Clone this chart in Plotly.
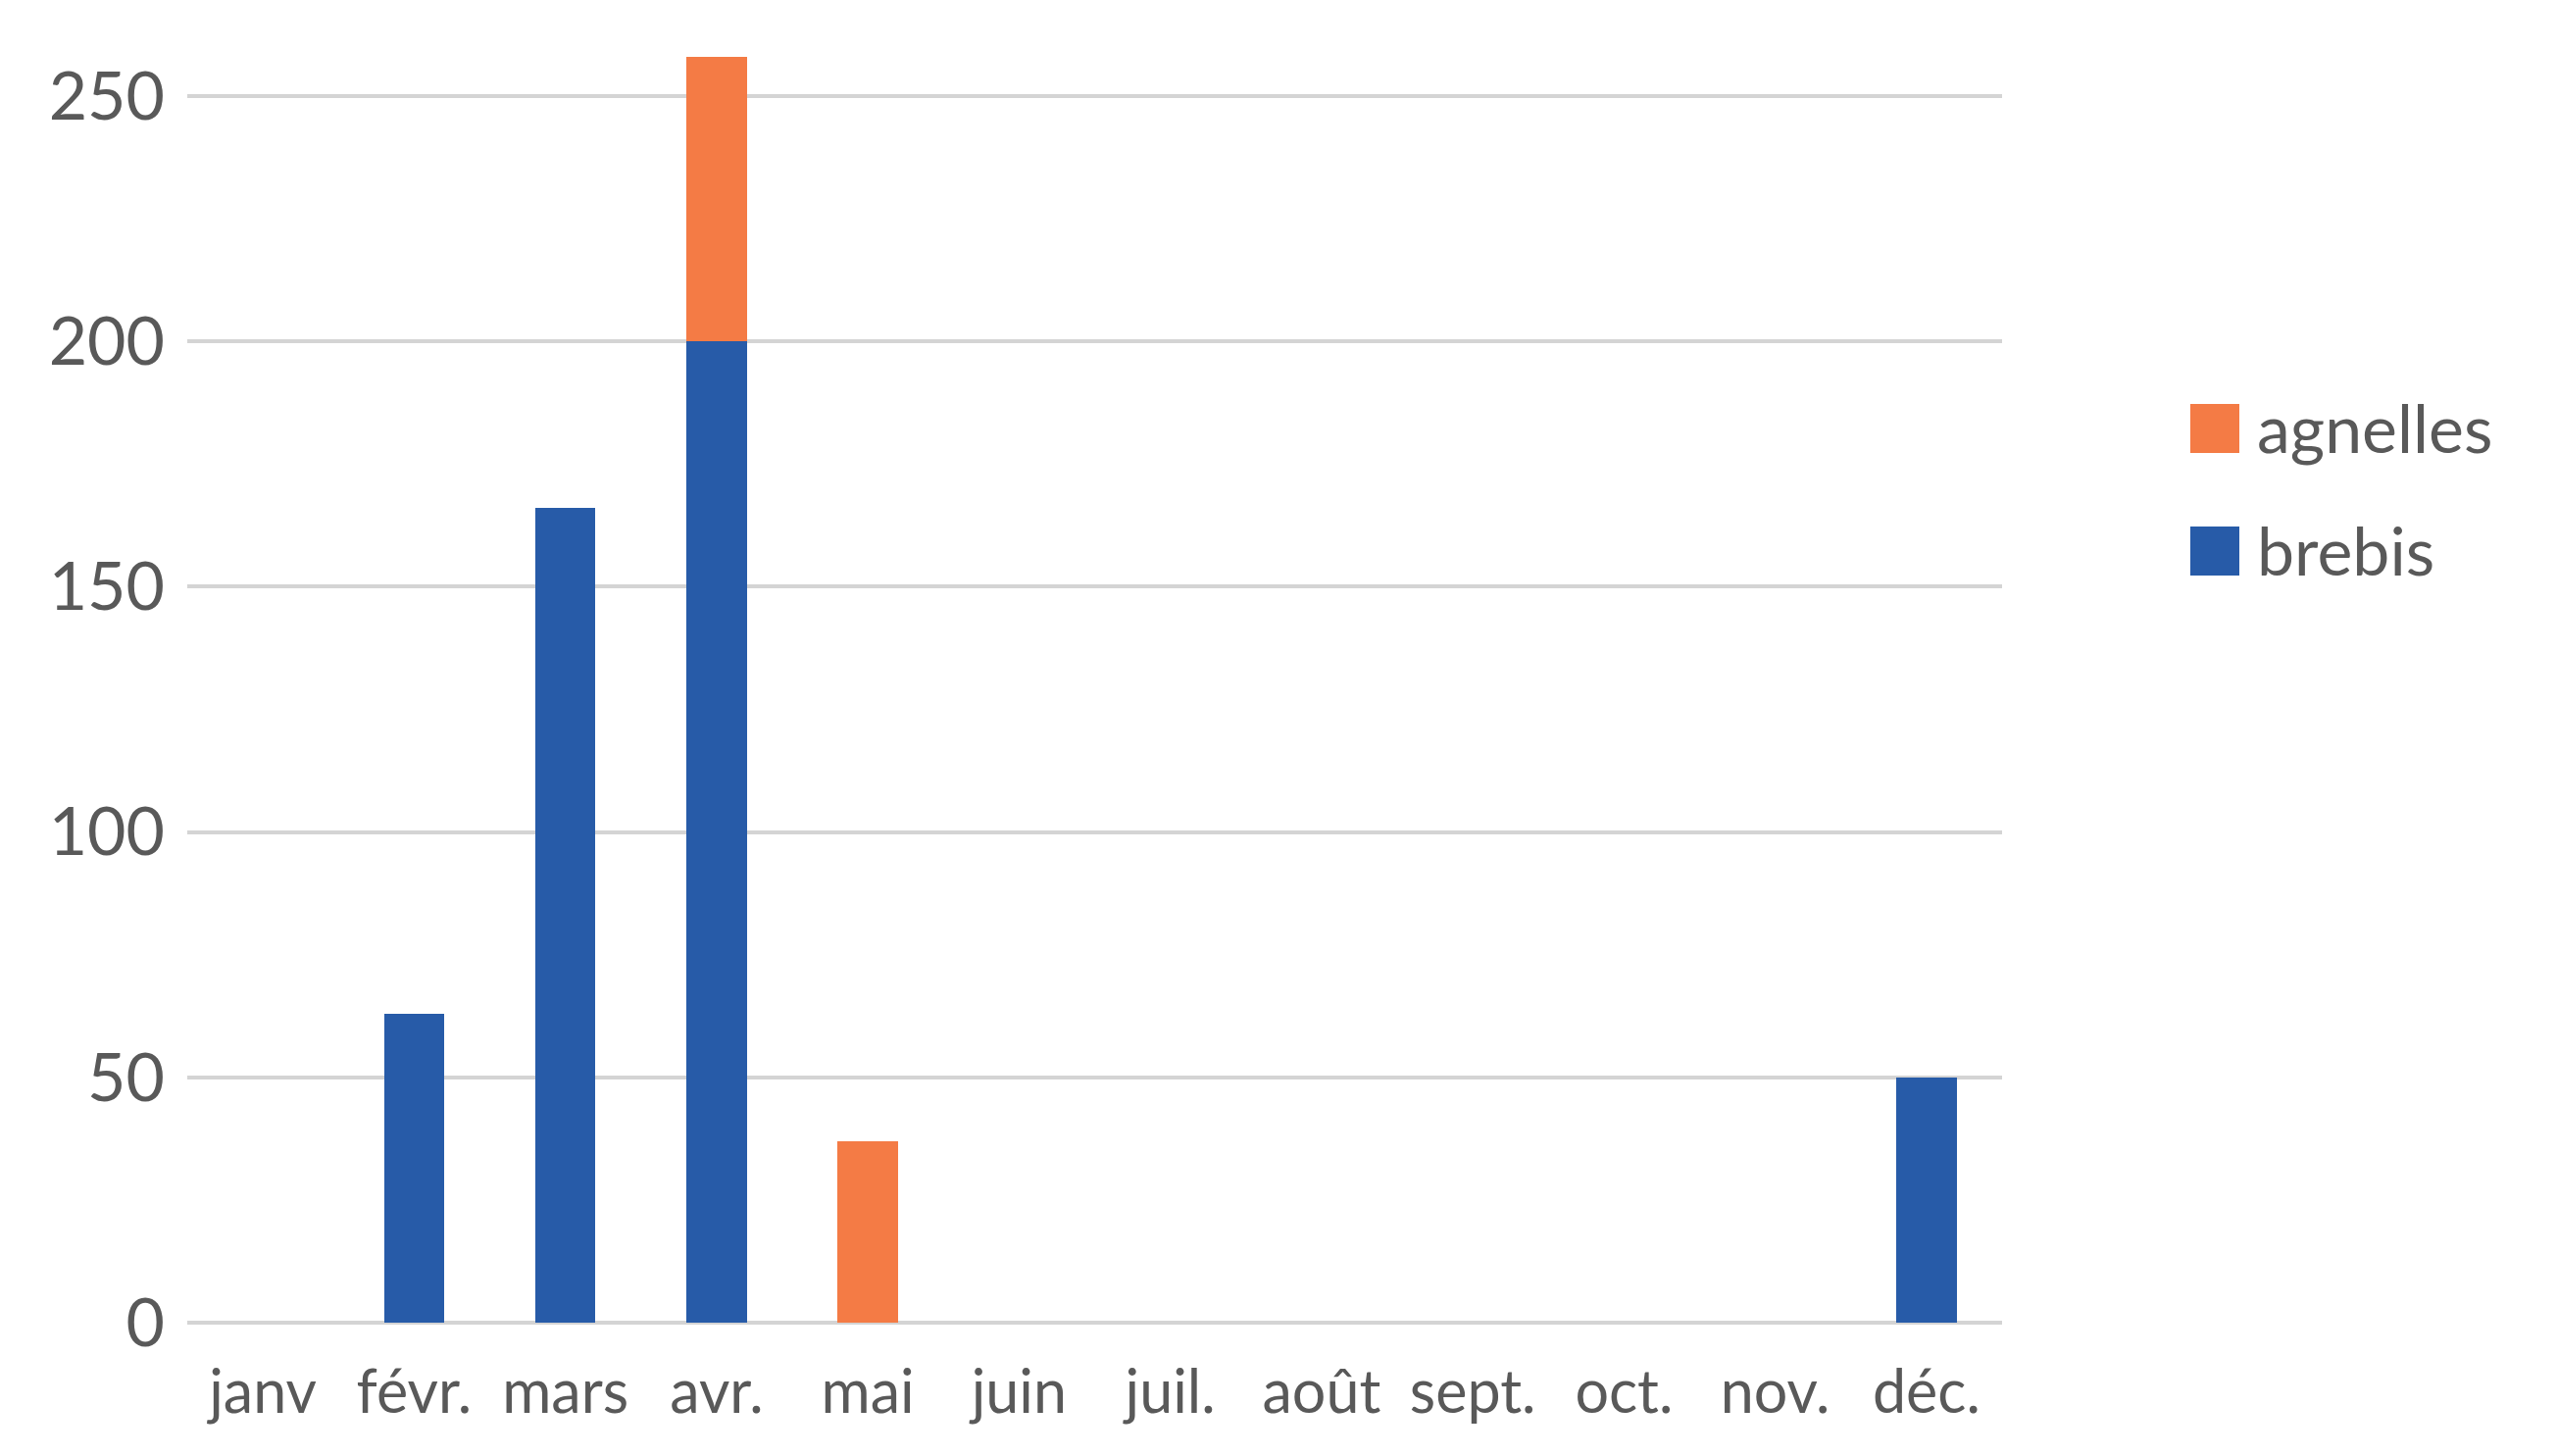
import plotly.graph_objects as go

months = ["janv", "févr.", "mars", "avr.", "mai", "juin", "juil.", "août", "sept.", "oct.", "nov.", "déc."]
brebis = [0, 63, 166, 200, 0, 0, 0, 0, 0, 0, 0, 50]
agnelles = [0, 0, 0, 58, 37, 0, 0, 0, 0, 0, 0, 0]
y_ticks = [0, 50, 100, 150, 200, 250]
series_names = ["agnelles", "brebis"]

BLUE = "#275BA8"
ORANGE = "#F47B45"
TEXT = "#595959"
GRID = "#D4D4D4"
FONT = "Lato, 'Open Sans', sans-serif"

W, H = 2608, 1485
OFF = 8  # page body margin
ML, MR, MT, MB = 183, 574, 40, 144

fig = go.Figure()
fig.add_trace(go.Bar(x=months, y=brebis, name=series_names[1], marker=dict(color=BLUE, line=dict(width=0)), showlegend=False))
fig.add_trace(go.Bar(x=months, y=agnelles, name=series_names[0], marker=dict(color=ORANGE, line=dict(width=0)), showlegend=False))

pw = W - ML - MR
ph = H - MT - MB

def px_x(x):
    return (x - OFF - ML) / pw

def px_y(y):
    return (H - MB - (y - OFF)) / ph

# manual legend (large square keys like the original)
legend_items = [(series_names[0], ORANGE, 437), (series_names[1], BLUE, 562)]
for name, col, cy in legend_items:
    fig.add_shape(type="rect", xref="paper", yref="paper",
                  x0=px_x(2234), x1=px_x(2284), y0=px_y(cy + 25), y1=px_y(cy - 25),
                  fillcolor=col, line=dict(width=0))
    fig.add_annotation(xref="paper", yref="paper", x=px_x(2300), y=px_y(cy - 2),
                       xanchor="left", yanchor="middle", text=name, showarrow=False,
                       font=dict(family=FONT, size=68, color=TEXT))

fig.update_layout(
    width=W, height=H,
    margin=dict(l=ML, r=MR, t=MT, b=MB),
    paper_bgcolor="white", plot_bgcolor="white",
    barmode="stack", bargap=0.6,
    showlegend=False,
    font=dict(family=FONT, color=TEXT),
    xaxis=dict(showgrid=False, showline=False, ticks="", tickfont=dict(size=61, color=TEXT),
               ticklabelstandoff=30, fixedrange=True),
    yaxis=dict(range=[0, 260], tickvals=y_ticks, showgrid=True, gridcolor=GRID, gridwidth=4,
               zeroline=True, zerolinecolor=GRID, zerolinewidth=4, showline=False, ticks="",
               tickfont=dict(size=68, color=TEXT), ticklabelstandoff=22),
)

fig.write_html("out.html")
